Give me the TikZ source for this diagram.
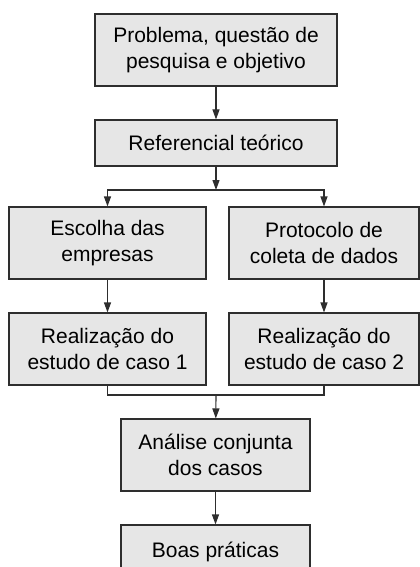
\documentclass[tikz,border=0pt]{standalone}
\usepackage{fontspec}
\setmainfont{Liberation Sans}
\usepackage{tikz}
\usetikzlibrary{arrows.meta,calc}
\definecolor{caixacinza}{HTML}{E6E6E6}
\definecolor{bordacinza}{HTML}{2E2E2E}
\tikzstyle{caixa} = [draw=bordacinza, fill=caixacinza, line width=1.1bp,
    rectangle, align=center, inner sep=0pt,
    font=\fontsize{21bp}{26bp}\selectfont]
\tikzstyle{seta} = [-{Triangle[length=10bp,width=7bp]}, line width=1.1bp, draw=bordacinza]
\tikzstyle{linha} = [line width=1.1bp, draw=bordacinza]

\begin{document}
\begin{tikzpicture}[x=1bp, y=-1bp]
    \useasboundingbox (0,0) rectangle (419,567);% page size
    \node[caixa, minimum width=242bp, minimum height=72bp] (prob) at (216,50)
        {Problema, questão de\\pesquisa e objetivo};% first box
    \node[caixa, minimum width=242bp, minimum height=46bp] (ref) at (216,143)
        {Referencial teórico};
    \node[caixa, minimum width=197bp, minimum height=72bp] (esc) at (107.5,243)
        {Escolha das\\empresas};
    \node[caixa, minimum width=190bp, minimum height=72bp] (prot) at (324,243)
        {Protocolo de\\coleta de dados};
    \node[caixa, minimum width=197bp, minimum height=72bp] (casoum) at (107.5,349)
        {Realização do\\estudo de caso 1};
    \node[caixa, minimum width=190bp, minimum height=72bp] (casodois) at (324,349)
        {Realização do\\estudo de caso 2};
    \node[caixa, minimum width=189bp, minimum height=72bp] (anal) at (215.5,455)
        {Análise conjunta\\dos casos};
    \node[caixa, minimum width=189bp, minimum height=54bp] (boas) at (215.5,552)
        {Boas práticas};% last box, cut by the page
    % connectors
    \coordinate (split) at (216,190);% fork below the theory box
    \coordinate (join) at (216,395);% merge below the case studies
    \draw[seta] (prob) -- (ref);
    \draw[seta] (ref) -- (split);
    \draw[seta] (split) -| (esc);% left branch
    \draw[seta] (split) -| (prot);% right branch
    \draw[seta] (esc) -- (casoum);
    \draw[seta] (prot) -- (casodois);
    \draw[linha] (casoum.south) |- (join) -| (casodois.south);% merge line
    \draw[seta] (join) -- (anal);
    \draw[seta] (anal) -- (boas);
\end{tikzpicture}
\end{document}
